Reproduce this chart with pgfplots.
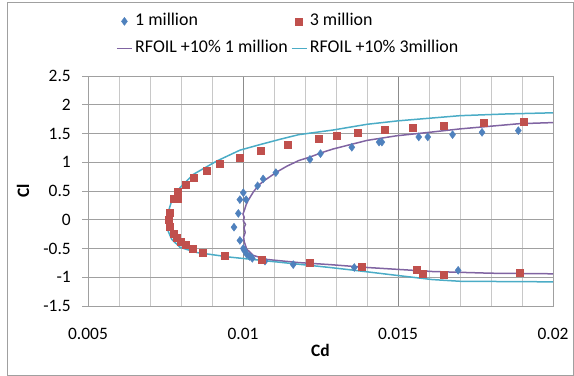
\documentclass[border=0pt]{standalone}
\usepackage{fontspec}
\setmainfont{Carlito}
\usepackage{pgfplots}
\pgfplotsset{compat=1.18}
\definecolor{cblue}{HTML}{4F81BD}
\definecolor{cred}{HTML}{C0504D}
\definecolor{cpurple}{HTML}{8064A2}
\definecolor{ccyan}{HTML}{4BACC6}
\definecolor{gmaj}{HTML}{8C8C8C}
\definecolor{gmin}{HTML}{C8C8C8}
\definecolor{gy}{HTML}{A0A0A0}
\begin{document}
\begin{tikzpicture}
\useasboundingbox (0,0) rectangle (574bp,376bp);
\draw[gy, line width=1bp] (7bp,1bp) rectangle (573.5bp,373.5bp);
\begin{axis}[
  at={(88bp,70bp)}, anchor=south west,
  scale only axis, width=465bp, height=230bp,
  xmin=0.005, xmax=0.02, ymin=-1.5, ymax=2.5,
  xtick={0.005,0.01,0.015,0.02},
  xticklabels={0.005,0.01,0.015,0.02},
  minor xtick={0.006,0.007,0.008,0.009,0.011,0.012,0.013,0.014,0.016,0.017,0.018,0.019},
  ytick={-1.5,-1,-0.5,0,0.5,1,1.5,2,2.5},
  yticklabels={-1.5,-1,-0.5,0,0.5,1,1.5,2,2.5},
  /pgf/number format/assume math mode=true,
  scaled x ticks=false,
  xmajorgrids, xminorgrids, ymajorgrids,
  x grid style={gmaj, line width=1bp},
  minor x grid style={gmin, line width=1bp},
  y grid style={gy, line width=1bp},
  axis line style={gy, line width=1bp},
  tick align=outside, major tick length=6bp,
  ytick pos=left, xtick pos=bottom,
  ytick style={gy, line width=1bp},
  xtick style={draw=none},
  minor tick length=0pt,
  yticklabel style={font=\fontsize{17.5}{20}\selectfont, inner sep=0pt, xshift=-11bp},
  xticklabel style={font=\fontsize{17.5}{20}\selectfont, inner sep=0pt, yshift=-16bp},
  xlabel={\textbf{Cd}}, ylabel={\textbf{Cl}},
  xlabel style={font=\fontsize{17.5}{20}\selectfont, at={(axis description cs:0.5,0)}, anchor=center, yshift=-44bp, inner sep=0pt},
  ylabel style={font=\fontsize{17.5}{20}\selectfont, at={(axis description cs:0,0.5)}, anchor=center, yshift=65bp, inner sep=0pt},
  legend columns=2,
  legend cell align=left,
  legend image code/.code={\draw[mark repeat=2,mark phase=2] plot coordinates {(0bp,0bp) (7.5bp,0bp) (15bp,0bp)};},
  legend style={draw=none, fill=none, at={(axis description cs:0.0602,1.271)}, anchor=north west,
    font=\fontsize{18}{21}\selectfont, inner sep=0pt, row sep=12bp,
    nodes={inner sep=0pt, text height=12bp, text depth=3bp},
    /tikz/every odd column/.append style={column sep=2.5bp},
    /tikz/every even column/.append style={column sep=3bp}},
]
\addplot[only marks, mark=diamond*, mark size=4bp, color=cblue] coordinates {
(0.01001,0.47) (0.0099,0.35) (0.0101,0.35) (0.00985,0.11) (0.00971,-0.13)
(0.0099,-0.36) (0.01001,-0.50) (0.01005,-0.54) (0.01012,-0.60) (0.01022,-0.64) (0.0103,-0.67)
(0.01071,-0.72) (0.01162,-0.78) (0.01359,-0.83) (0.01694,-0.88)
(0.01047,0.59) (0.01065,0.71) (0.01106,0.82) (0.01216,1.05) (0.0125,1.15)
(0.01351,1.26) (0.01439,1.35) (0.01448,1.35) (0.01567,1.44) (0.01596,1.44)
(0.01676,1.48) (0.01771,1.52) (0.01888,1.55)
};
\addlegendentry{1 million}
\addplot[only marks, mark=square*, mark size=3.5bp, color=cred] coordinates {
(0.00762,0.127) (0.00759,0.0) (0.00765,-0.12) (0.00778,-0.25) (0.00786,-0.32)
(0.00799,-0.38) (0.00816,-0.44) (0.00838,-0.51) (0.0087,-0.57) (0.00942,-0.63)
(0.01061,-0.69) (0.01216,-0.75) (0.01383,-0.81) (0.0156,-0.87) (0.0158,-0.94)
(0.01646,-0.96) (0.01893,-0.92)
(0.00776,0.37) (0.0079,0.37) (0.00788,0.49) (0.00816,0.61) (0.00842,0.74)
(0.00884,0.86) (0.00925,0.98) (0.0099,1.08) (0.01056,1.20) (0.01144,1.31)
(0.01244,1.41) (0.01302,1.47) (0.01371,1.51) (0.01458,1.56) (0.01549,1.60)
(0.01648,1.64) (0.01777,1.68) (0.01906,1.71)
};
\addlegendentry{3 million}
\addplot[no marks, color=cpurple, line width=1.5bp] coordinates {
(0.0200,1.69) (0.0189,1.67) (0.0170,1.58) (0.0160,1.52) (0.01495,1.46)
(0.0140,1.38) (0.01356,1.32) (0.0129,1.23) (0.0125,1.16) (0.01216,1.09)
(0.0118,1.03) (0.01141,0.93) (0.01109,0.83) (0.01071,0.69) (0.0105,0.60)
(0.01033,0.48) (0.01017,0.34) (0.01010,0.26) (0.01006,0.19) (0.01000,0.10)
(0.01004,0.04) (0.01001,-0.02) (0.01008,-0.08) (0.01003,-0.14) (0.01007,-0.22)
(0.01002,-0.30) (0.01004,-0.38) (0.01012,-0.51) (0.01033,-0.62) (0.01076,-0.69)
(0.0118,-0.745) (0.0128,-0.78) (0.0140,-0.83) (0.0161,-0.90) (0.0180,-0.93)
(0.0200,-0.94)
};
\addlegendentry{RFOIL +10\% 1 million}
\addplot[no marks, color=ccyan, line width=1.5bp] coordinates {
(0.0200,1.86) (0.0185,1.84) (0.0170,1.81) (0.0150,1.72) (0.0140,1.66)
(0.0129,1.56) (0.0118,1.48) (0.0112,1.40) (0.0105,1.30) (0.0099,1.21)
(0.00915,1.02) (0.0084,0.79) (0.00797,0.56) (0.0077,0.33) (0.00762,0.19)
(0.00756,0.0) (0.00758,-0.19) (0.0077,-0.34) (0.00797,-0.48) (0.00851,-0.57)
(0.00958,-0.65) (0.0112,-0.74) (0.0128,-0.83) (0.01345,-0.87) (0.0150,-0.97)
(0.0161,-1.04) (0.0170,-1.07) (0.0200,-1.08)
};
\addlegendentry{RFOIL +10\% 3million}
\end{axis}
\end{tikzpicture}
\end{document}
